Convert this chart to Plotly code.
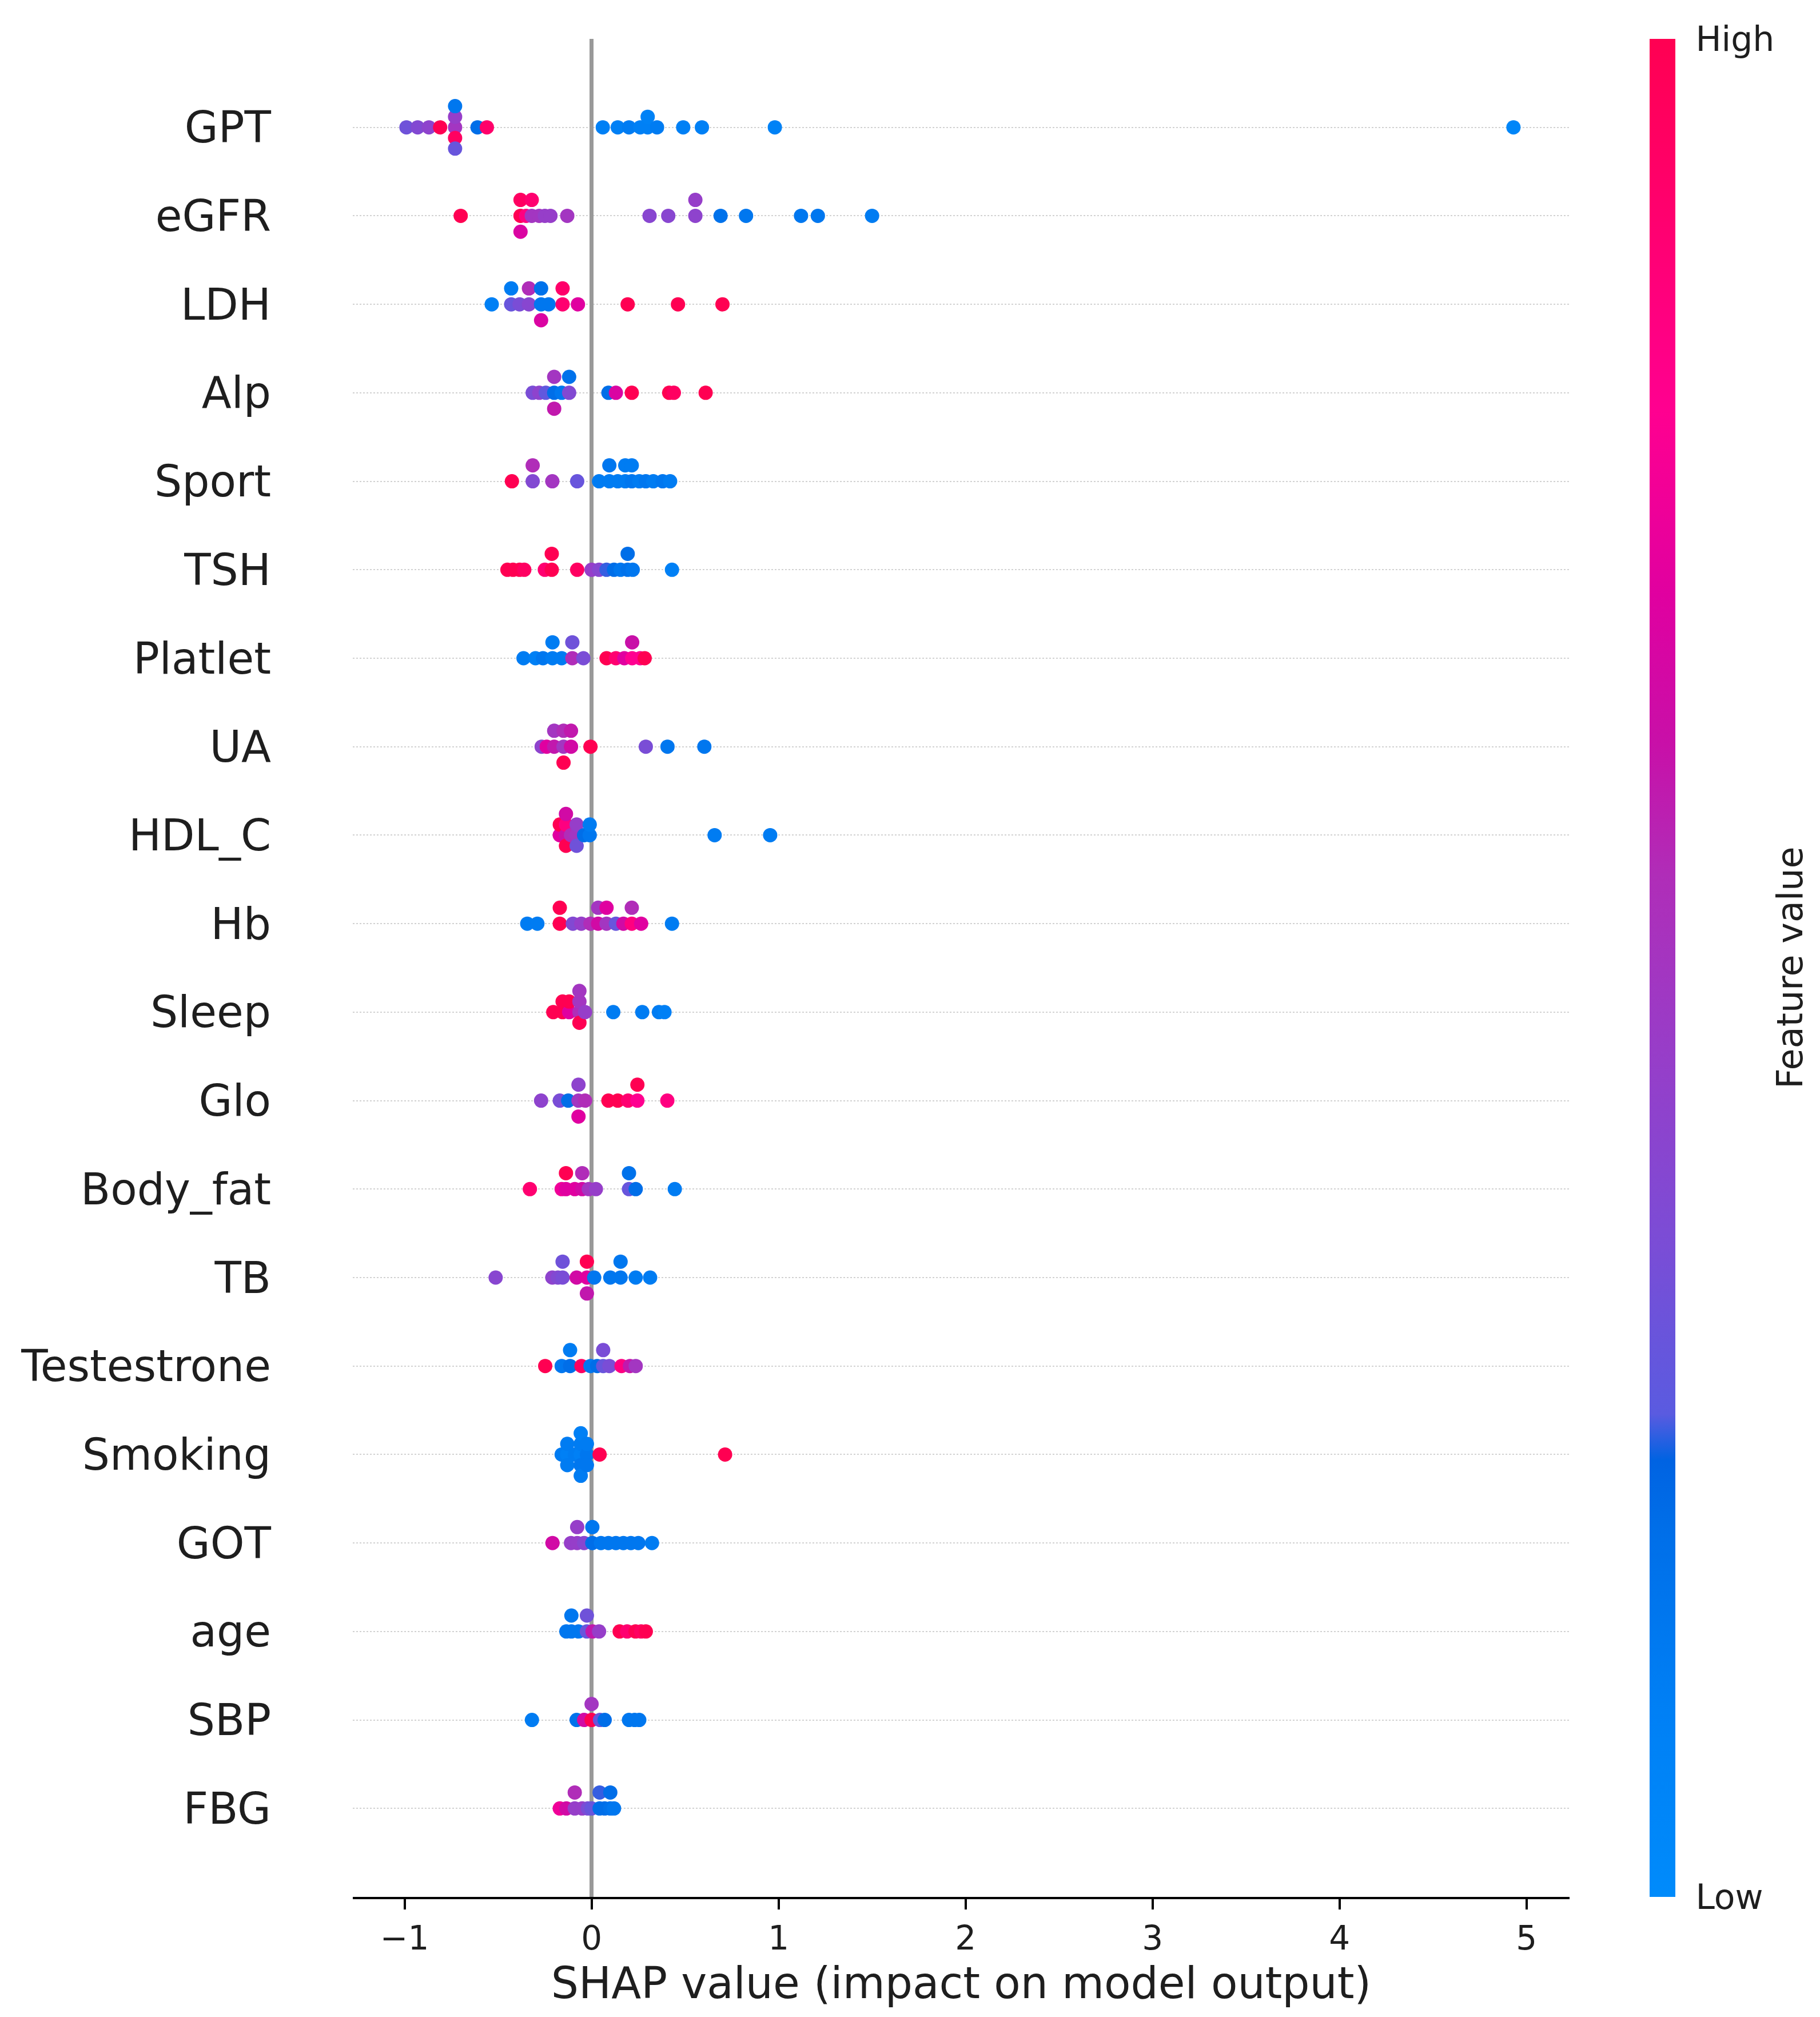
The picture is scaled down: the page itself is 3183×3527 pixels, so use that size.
import numpy as np
import plotly.graph_objects as go

# features from most to least important (top to bottom)
features = ["GPT", "eGFR", "LDH", "Alp", "Sport", "TSH", "Platlet", "UA", "HDL_C", "Hb",
            "Sleep", "Glo", "Body_fat", "TB", "Testestrone", "Smoking", "GOT", "age", "SBP", "FBG"]

# SHAP values and (normalised) feature values
gpt_shap = [-0.99, -0.93, -0.87, -0.81, -0.73, -0.73, -0.73, -0.73, -0.73, -0.61, -0.56,
            0.06, 0.14, 0.20, 0.26, 0.30, 0.30, 0.35, 0.49, 0.59, 0.98, 4.93]
gpt_value = [0.32, 0.38, 0.42, 1.0, 0.5, 0.45, 0.95, 0.15, 0.3, 0.2, 0.92,
             0.1, 0.1, 0.12, 0.1, 0.1, 0.08, 0.12, 0.1, 0.1, 0.08, 0.05]

egfr_shap = [-0.70, -0.38, -0.38, -0.38, -0.35, -0.32, -0.32, -0.28, -0.25, -0.22, -0.13,
             0.31, 0.41, 0.555, 0.555, 0.69, 0.826, 1.12, 1.21, 1.50]
egfr_value = [1.0, 1.0, 0.95, 0.68, 0.85, 0.5, 0.9, 0.5, 0.45, 0.45, 0.5,
              0.4, 0.4, 0.42, 0.45, 0.18, 0.15, 0.15, 0.15, 0.12]

ldh_shap = [-0.534, -0.43, -0.43, -0.385, -0.335, -0.335, -0.27, -0.27, -0.27, -0.23,
            -0.155, -0.155, -0.073, 0.193, 0.462, 0.70]
ldh_value = [0.1, 0.3, 0.12, 0.35, 0.4, 0.55, 0.15, 0.18, 0.68, 0.15,
             0.9, 0.92, 0.7, 1.0, 1.0, 1.0]

alp_shap = [-0.315, -0.28, -0.245, -0.20, -0.20, -0.20, -0.16, -0.12, -0.12,
            0.09, 0.13, 0.215, 0.415, 0.44, 0.61]
alp_value = [0.35, 0.42, 0.28, 0.2, 0.5, 0.6, 0.15, 0.38, 0.18,
             0.2, 0.68, 1.0, 1.0, 0.95, 1.0]

sport_shap = [-0.426, -0.315, -0.315, -0.21, -0.077, 0.04, 0.095, 0.095, 0.14, 0.18, 0.18,
              0.215, 0.215, 0.255, 0.29, 0.33, 0.38, 0.42]
sport_value = [1.0, 0.38, 0.55, 0.5, 0.3, 0.12, 0.12, 0.15, 0.12, 0.12, 0.12,
               0.15, 0.12, 0.12, 0.15, 0.12, 0.15, 0.12]

tsh_shap = [-0.45, -0.42, -0.385, -0.36, -0.25, -0.213, -0.213, -0.077, 0.0, 0.04, 0.08,
            0.12, 0.155, 0.193, 0.193, 0.22, 0.43]
tsh_value = [1.0, 1.0, 1.0, 0.95, 0.9, 1.0, 1.0, 0.95, 0.45, 0.4, 0.25,
             0.2, 0.15, 0.18, 0.2, 0.15, 0.1]

platlet_shap = [-0.364, -0.30, -0.26, -0.209, -0.209, -0.16, -0.103, -0.103, -0.044,
                0.08, 0.13, 0.175, 0.217, 0.217, 0.26, 0.284]
platlet_value = [0.12, 0.1, 0.15, 0.12, 0.12, 0.12, 0.55, 0.32, 0.35,
                 1.0, 0.9, 0.7, 0.8, 0.62, 0.8, 1.0]

ua_shap = [-0.267, -0.24, -0.2, -0.2, -0.15, -0.15, -0.15, -0.11, -0.11, -0.006,
           0.29, 0.406, 0.603]
ua_value = [0.42, 0.7, 0.6, 0.5, 0.5, 0.55, 1.0, 0.65, 0.6, 1.0,
            0.35, 0.15, 0.15]

hdl_shap = [-0.17, -0.17, -0.137, -0.137, -0.137, -0.137, -0.11, -0.08, -0.08, -0.08,
            -0.04, -0.01, -0.01, 0.658, 0.955]
hdl_value = [0.7, 1.0, 0.62, 0.85, 1.0, 0.65, 0.55, 0.5, 0.45, 0.32,
             0.2, 0.15, 0.12, 0.12, 0.12]

hb_shap = [-0.344, -0.29, -0.17, -0.17, -0.10, -0.055, -0.006, 0.035, 0.035, 0.08, 0.08,
           0.13, 0.17, 0.215, 0.215, 0.265, 0.43]
hb_value = [0.12, 0.12, 1.0, 1.0, 0.38, 0.45, 0.55, 0.65, 0.5, 0.5, 0.7,
            0.3, 0.65, 0.85, 0.55, 0.7, 0.12]

sleep_shap = [-0.205, -0.155, -0.155, -0.12, -0.12, -0.065, -0.065, -0.065, -0.065, -0.035,
              0.116, 0.271, 0.36, 0.39]
sleep_value = [1.0, 1.0, 1.0, 0.7, 1.0, 0.55, 0.5, 1.0, 0.5, 0.45,
               0.12, 0.12, 0.12, 0.1]

glo_shap = [-0.27, -0.17, -0.125, -0.07, -0.07, -0.07, -0.035, 0.09, 0.14, 0.195,
            0.245, 0.245, 0.405]
glo_value = [0.42, 0.35, 0.2, 0.5, 0.42, 0.7, 0.55, 1.0, 1.0, 0.9,
             0.8, 1.0, 0.85]

bodyfat_shap = [-0.33, -0.16, -0.137, -0.137, -0.09, -0.05, -0.05, -0.015, 0.023,
                0.2, 0.2, 0.236, 0.445]
bodyfat_value = [0.9, 0.75, 0.7, 1.0, 0.7, 0.65, 0.55, 0.5, 0.45,
                 0.3, 0.18, 0.2, 0.12]

tb_shap = [-0.513, -0.21, -0.18, -0.155, -0.155, -0.08, -0.025, -0.025, -0.025,
           0.014, 0.10, 0.155, 0.155, 0.236, 0.313]
tb_value = [0.4, 0.42, 0.38, 0.35, 0.32, 0.65, 0.7, 1.0, 0.6,
            0.15, 0.15, 0.15, 0.15, 0.12, 0.12]

testo_shap = [-0.248, -0.16, -0.115, -0.115, -0.054, -0.006, 0.03, 0.062, 0.062,
              0.095, 0.16, 0.205, 0.236]
testo_value = [1.0, 0.15, 0.2, 0.12, 0.95, 0.15, 0.2, 0.3, 0.35,
               0.35, 0.85, 0.6, 0.5]

smoking_shap = [-0.16, -0.13, -0.13, -0.13, -0.09, -0.058, -0.058, -0.058, -0.058, -0.058,
                -0.025, -0.025, -0.025, 0.043, 0.714]
smoking_value = [0.12, 0.1, 0.12, 0.12, 0.12, 0.1, 0.12, 0.15, 0.1, 0.12,
                 0.15, 0.12, 0.15, 1.0, 1.0]

got_shap = [-0.209, -0.11, -0.077, -0.077, -0.04, 0.004, 0.004, 0.05, 0.09, 0.13,
            0.17, 0.21, 0.25, 0.323]
got_value = [0.65, 0.45, 0.45, 0.45, 0.4, 0.2, 0.15, 0.15, 0.15, 0.15,
             0.15, 0.15, 0.15, 0.12]

age_shap = [-0.135, -0.108, -0.108, -0.07, -0.025, -0.025, 0.005, 0.04,
            0.15, 0.19, 0.235, 0.265, 0.29]
age_value = [0.15, 0.15, 0.15, 0.15, 0.3, 0.32, 0.6, 0.45,
             1.0, 0.9, 1.0, 0.95, 1.0]

sbp_shap = [-0.319, -0.08, -0.04, 0.0, 0.0, 0.045, 0.07, 0.2, 0.23, 0.255]
sbp_value = [0.12, 0.18, 0.65, 1.0, 0.5, 0.3, 0.2, 0.15, 0.15, 0.15]

fbg_shap = [-0.17, -0.135, -0.09, -0.09, -0.05, -0.02, 0.0, 0.043, 0.043, 0.07,
            0.10, 0.10, 0.12]
fbg_value = [0.75, 0.65, 0.45, 0.55, 0.45, 0.35, 0.3, 0.2, 0.25, 0.2,
             0.18, 0.2, 0.15]

x_ticks = [-1, 0, 1, 2, 3, 4, 5]

rows = [
    (gpt_shap, gpt_value), (egfr_shap, egfr_value), (ldh_shap, ldh_value),
    (alp_shap, alp_value), (sport_shap, sport_value), (tsh_shap, tsh_value),
    (platlet_shap, platlet_value), (ua_shap, ua_value), (hdl_shap, hdl_value),
    (hb_shap, hb_value), (sleep_shap, sleep_value), (glo_shap, glo_value),
    (bodyfat_shap, bodyfat_value), (tb_shap, tb_value), (testo_shap, testo_value),
    (smoking_shap, smoking_value), (got_shap, got_value), (age_shap, age_value),
    (sbp_shap, sbp_value), (fbg_shap, fbg_value),
]

# shap's red_blue map, approximated
red_blue = [
    [0.0, "#008bfb"], [0.1, "#0080f5"], [0.2, "#006ee8"], [0.235, "#0063e2"],
    [0.26, "#5a5be0"], [0.35, "#7a4dd6"], [0.45, "#963ec9"], [0.55, "#b02db8"],
    [0.62, "#c810a8"], [0.7, "#e000a0"], [0.8, "#ff0090"], [0.9, "#ff0070"],
    [1.0, "#ff0052"],
]


def swarm_offsets(shaps, nbins=100, row_height=0.4):
    # same binning/stacking as shap's beeswarm summary plot
    shaps = np.asarray(shaps, dtype=float)
    quant = np.round(nbins * (shaps - shaps.min()) / (shaps.max() - shaps.min() + 1e-8))
    inds = np.argsort(quant, kind="stable")
    layer = 0
    last_bin = -1
    ys = np.zeros(len(shaps))
    for ind in inds:
        if quant[ind] != last_bin:
            layer = 0
        ys[ind] = np.ceil(layer / 2) * ((layer % 2) * 2 - 1)
        layer += 1
        last_bin = quant[ind]
    ys *= 0.9 * (row_height / np.max(ys + 1))
    return ys


n = len(features)
xs, ys, cs = [], [], []
for i in reversed(range(n)):
    shap_vals, feat_vals = rows[i]
    pos = n - 1 - i
    off = swarm_offsets(shap_vals)
    xs += list(shap_vals)
    ys += list(pos + off)
    cs += list(feat_vals)

text_color = "#1e1e1e"

fig = go.Figure()
fig.add_trace(go.Scatter(
    x=xs, y=ys, mode="markers",
    marker=dict(
        size=25, color=cs, colorscale=red_blue, cmin=0, cmax=1,
        line=dict(width=0),
        colorbar=dict(
            x=1.066, xanchor="left", y=0.5, yanchor="middle", len=1, lenmode="fraction",
            thickness=45, outlinewidth=0, ypad=0, xpad=0,
            tickvals=[0, 1], ticktext=["Low", "High"],
            ticks="outside", ticklen=24, tickcolor="rgba(0,0,0,0)",
            tickfont=dict(size=60, color=text_color),
        ),
    ),
    hoverinfo="skip",
    showlegend=False,
))

fig.add_annotation(
    text="Feature value", textangle=-90,
    xref="paper", yref="paper", x=1.181, y=0.5,
    xanchor="center", yanchor="middle", showarrow=False,
    font=dict(size=62, color=text_color),
)

fig.update_layout(
    width=3183, height=3527,
    margin=dict(l=609, r=446, t=60, b=218),
    plot_bgcolor="white", paper_bgcolor="white",
    font=dict(family="DejaVu Sans", color=text_color),
)
fig.update_xaxes(
    range=[-1.277, 5.23], tickvals=x_ticks,
    showgrid=False,
    zeroline=True, zerolinecolor="#999999", zerolinewidth=7,
    showline=True, linecolor="black", linewidth=4,
    ticks="outside", ticklen=18, tickwidth=4, tickcolor="black",
    tickfont=dict(size=58, color=text_color),
    title=dict(text="SHAP value (impact on model output)",
               font=dict(size=76, color=text_color), standoff=20),
)
fig.update_yaxes(
    range=[-1, n], tickvals=list(range(n)), ticktext=features[::-1],
    showgrid=True, gridcolor="#d2d2d2", griddash="dot", gridwidth=2,
    zeroline=False, showline=False, ticks="",
    ticklabelstandoff=142,
    tickfont=dict(size=76, color=text_color),
)

fig.write_html("out.html")
